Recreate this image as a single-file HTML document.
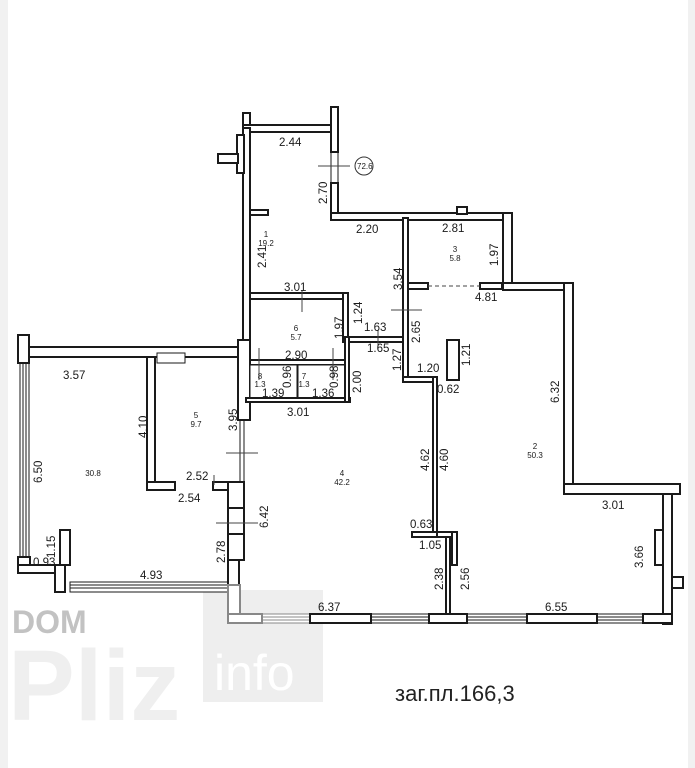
<!DOCTYPE html>
<html><head><meta charset="utf-8"><style>
html,body{margin:0;padding:0;background:#fff;}
svg{display:block}
text{font-family:"Liberation Sans",sans-serif;fill:#1a1a1a;}
.d{font-size:11.5px;}
.s{font-size:8px;}
</style></head><body>
<svg width="695" height="768" viewBox="0 0 695 768" xmlns="http://www.w3.org/2000/svg">
<rect x="0" y="0" width="695" height="768" fill="#fff"/>
<rect x="0" y="0" width="8" height="768" fill="#f1f1f1"/>
<rect x="688" y="0" width="7" height="768" fill="#f1f1f1"/>
<!-- watermark -->
<rect x="203" y="590" width="120" height="112" fill="#eeeeee"/>
<text x="12" y="633" style="font-size:32px;font-weight:bold;fill:#c2c2c2">DOM</text>
<text x="8" y="720" style="font-size:100px;font-weight:bold;fill:#efefef">Pliz</text>
<text x="214" y="690" style="font-size:50px;fill:#ffffff">info</text>
<text x="395" y="701" style="font-size:22px;fill:#222">заг.пл.166,3</text>

<g fill="#fff" stroke="#1a1a1a" stroke-width="2">
<!-- windows -->
<g stroke-width="1">
<rect x="20" y="363" width="9" height="194"/>
<line x1="23" y1="363" x2="23" y2="557"/><line x1="26" y1="363" x2="26" y2="557"/>
<rect x="70" y="582" width="158" height="10"/>
<line x1="70" y1="585" x2="228" y2="585"/><line x1="70" y1="588" x2="228" y2="588"/>
<rect x="240" y="420" width="4" height="62"/>
<rect x="331" y="152" width="7" height="31"/>
</g>
<g stroke="#888" stroke-width="1">
<rect x="262" y="614" width="48" height="9"/><line x1="262" y1="617" x2="310" y2="617"/><line x1="262" y1="620" x2="310" y2="620"/>
</g>
<g stroke-width="1">
<rect x="371" y="614" width="58" height="9"/><line x1="371" y1="617" x2="429" y2="617"/><line x1="371" y1="620" x2="429" y2="620"/>
<rect x="467" y="614" width="60" height="9"/><line x1="467" y1="617" x2="527" y2="617"/><line x1="467" y1="620" x2="527" y2="620"/>
<rect x="597" y="614" width="46" height="9"/><line x1="597" y1="617" x2="643" y2="617"/><line x1="597" y1="620" x2="643" y2="620"/>
</g>
<!-- room1 -->
<rect x="243" y="113" width="7" height="17"/>
<rect x="243" y="125" width="95" height="7"/>
<rect x="331" y="107" width="7" height="45"/>
<rect x="331" y="183" width="7" height="37"/>
<rect x="331" y="213" width="180" height="7"/>
<rect x="457" y="207" width="10" height="7"/>
<rect x="503" y="213" width="9" height="77"/>
<rect x="503" y="283" width="70" height="7"/>
<rect x="564" y="283" width="9" height="211"/>
<rect x="564" y="484" width="116" height="10"/>
<rect x="663" y="494" width="9" height="130"/>
<rect x="655" y="530" width="8" height="35"/>
<rect x="672" y="577" width="11" height="11"/>
<rect x="243" y="128" width="7" height="215"/>
<rect x="238" y="340" width="12" height="80"/>
<rect x="237" y="135" width="7" height="38"/>
<rect x="218" y="154" width="20" height="9"/>
<rect x="250" y="210" width="18" height="5"/>
<!-- room3 & core -->
<rect x="403" y="218" width="5" height="162"/>
<rect x="348" y="337" width="55" height="5"/>
<rect x="250" y="293" width="98" height="6"/>
<rect x="343" y="293" width="5" height="49"/>
<rect x="250" y="360" width="97" height="5"/>
<rect x="250" y="365" width="47" height="34" stroke-width="1"/>
<rect x="298" y="365" width="47" height="34" stroke-width="1"/>
<rect x="246" y="398" width="104" height="4"/>
<rect x="345" y="337" width="4" height="65"/>
<rect x="408" y="283" width="20" height="6"/>
<rect x="480" y="283" width="22" height="6"/>
<rect x="403" y="377" width="32" height="5"/>
<rect x="433" y="377" width="4" height="155"/>
<rect x="437" y="532" width="20" height="5"/>
<rect x="412" y="532" width="25" height="5"/>
<rect x="452" y="532" width="5" height="33"/>
<rect x="446" y="537" width="4" height="77"/>
<rect x="447" y="340" width="12" height="40"/>
<!-- left area -->
<rect x="18" y="335" width="11" height="28"/>
<rect x="29" y="347" width="209" height="10"/>
<rect x="18" y="557" width="12" height="16"/>
<rect x="18" y="565" width="42" height="8"/>
<rect x="55" y="565" width="10" height="27"/>
<rect x="60" y="530" width="10" height="35"/>
<rect x="147" y="357" width="8" height="133"/>
<rect x="147" y="482" width="28" height="8"/>
<rect x="157" y="353" width="28" height="10" stroke-width="1"/>
<rect x="213" y="482" width="15" height="8"/>
<rect x="228" y="482" width="16" height="26"/>
<rect x="228" y="508" width="16" height="26"/>
<rect x="228" y="534" width="16" height="26"/>
<rect x="228" y="560" width="11" height="25"/>
<!-- bottom -->
<rect x="228" y="585" width="12" height="38" stroke="#888"/>
<rect x="228" y="614" width="34" height="9" stroke="#888"/>
<rect x="310" y="614" width="61" height="9"/>
<rect x="429" y="614" width="38" height="9"/>
<rect x="527" y="614" width="70" height="9"/>
<rect x="643" y="614" width="29" height="9"/>
</g>
<line x1="428" y1="286" x2="480" y2="286" stroke="#444" stroke-dasharray="4,3"/>
<g stroke="#444" stroke-width="1">
<line x1="318" y1="166" x2="350" y2="166"/><line x1="391" y1="310" x2="422" y2="310"/>
<line x1="226" y1="453" x2="258" y2="453"/><line x1="216" y1="523" x2="258" y2="523"/>
<line x1="302" y1="290" x2="302" y2="312"/><line x1="259" y1="348" x2="259" y2="380"/>
<line x1="333" y1="348" x2="333" y2="380"/><line x1="378" y1="330" x2="378" y2="350"/>
<line x1="214" y1="475" x2="214" y2="485"/>
</g>
<circle cx="364" cy="166" r="9" fill="none" stroke="#333"/>
<text x="357" y="169" style="font-size:8px">72.6</text>

<g class="d">
<text x="279" y="146">2.44</text>
<text x="356" y="233">2.20</text>
<text x="442" y="232">2.81</text>
<text x="284" y="291">3.01</text>
<text x="475" y="301">4.81</text>
<text x="364" y="331">1.63</text>
<text x="367" y="352">1.65</text>
<text x="417" y="372">1.20</text>
<text x="437" y="393">0.62</text>
<text x="285" y="359">2.90</text>
<text x="262" y="397">1.39</text>
<text x="312" y="397">1.36</text>
<text x="287" y="416">3.01</text>
<text x="63" y="379">3.57</text>
<text x="186" y="480">2.52</text>
<text x="178" y="502">2.54</text>
<text x="602" y="509">3.01</text>
<text x="410" y="528">0.63</text>
<text x="419" y="549">1.05</text>
<text x="33" y="566">0.93</text>
<text x="140" y="579">4.93</text>
<text x="318" y="611">6.37</text>
<text x="545" y="611">6.55</text>
</g>
<g class="d">
<text transform="translate(327,204) rotate(-90)">2.70</text>
<text transform="translate(266,268) rotate(-90)">2.41</text>
<text transform="translate(498,266) rotate(-90)">1.97</text>
<text transform="translate(402,290) rotate(-90)">3.54</text>
<text transform="translate(362,324) rotate(-90)">1.24</text>
<text transform="translate(343,339) rotate(-90)">1.97</text>
<text transform="translate(420,343) rotate(-90)">2.65</text>
<text transform="translate(401,371) rotate(-90)">1.27</text>
<text transform="translate(470,366) rotate(-90)">1.21</text>
<text transform="translate(361,393) rotate(-90)">2.00</text>
<text transform="translate(291,388) rotate(-90)">0.96</text>
<text transform="translate(338,388) rotate(-90)">0.98</text>
<text transform="translate(147,438) rotate(-90)">4.10</text>
<text transform="translate(237,431) rotate(-90)">3.95</text>
<text transform="translate(42,483) rotate(-90)">6.50</text>
<text transform="translate(429,471) rotate(-90)">4.62</text>
<text transform="translate(448,471) rotate(-90)">4.60</text>
<text transform="translate(268,528) rotate(-90)">6.42</text>
<text transform="translate(225,563) rotate(-90)">2.78</text>
<text transform="translate(55,558) rotate(-90)">1.15</text>
<text transform="translate(643,568) rotate(-90)">3.66</text>
<text transform="translate(443,590) rotate(-90)">2.38</text>
<text transform="translate(469,590) rotate(-90)">2.56</text>
<text transform="translate(559,403) rotate(-90)">6.32</text>
</g>
<g class="s" text-anchor="middle">
<text x="266" y="237">1</text><text x="266" y="246">19.2</text>
<text x="455" y="252">3</text><text x="455" y="261">5.8</text>
<text x="296" y="331">6</text><text x="296" y="340">5.7</text>
<text x="260" y="379">8</text><text x="260" y="387">1.3</text>
<text x="304" y="379">7</text><text x="304" y="387">1.3</text>
<text x="196" y="418">5</text><text x="196" y="427">9.7</text>
<text x="93" y="476">30.8</text>
<text x="342" y="476">4</text><text x="342" y="485">42.2</text>
<text x="535" y="449">2</text><text x="535" y="458">50.3</text>
</g>
</svg>
</body></html>
